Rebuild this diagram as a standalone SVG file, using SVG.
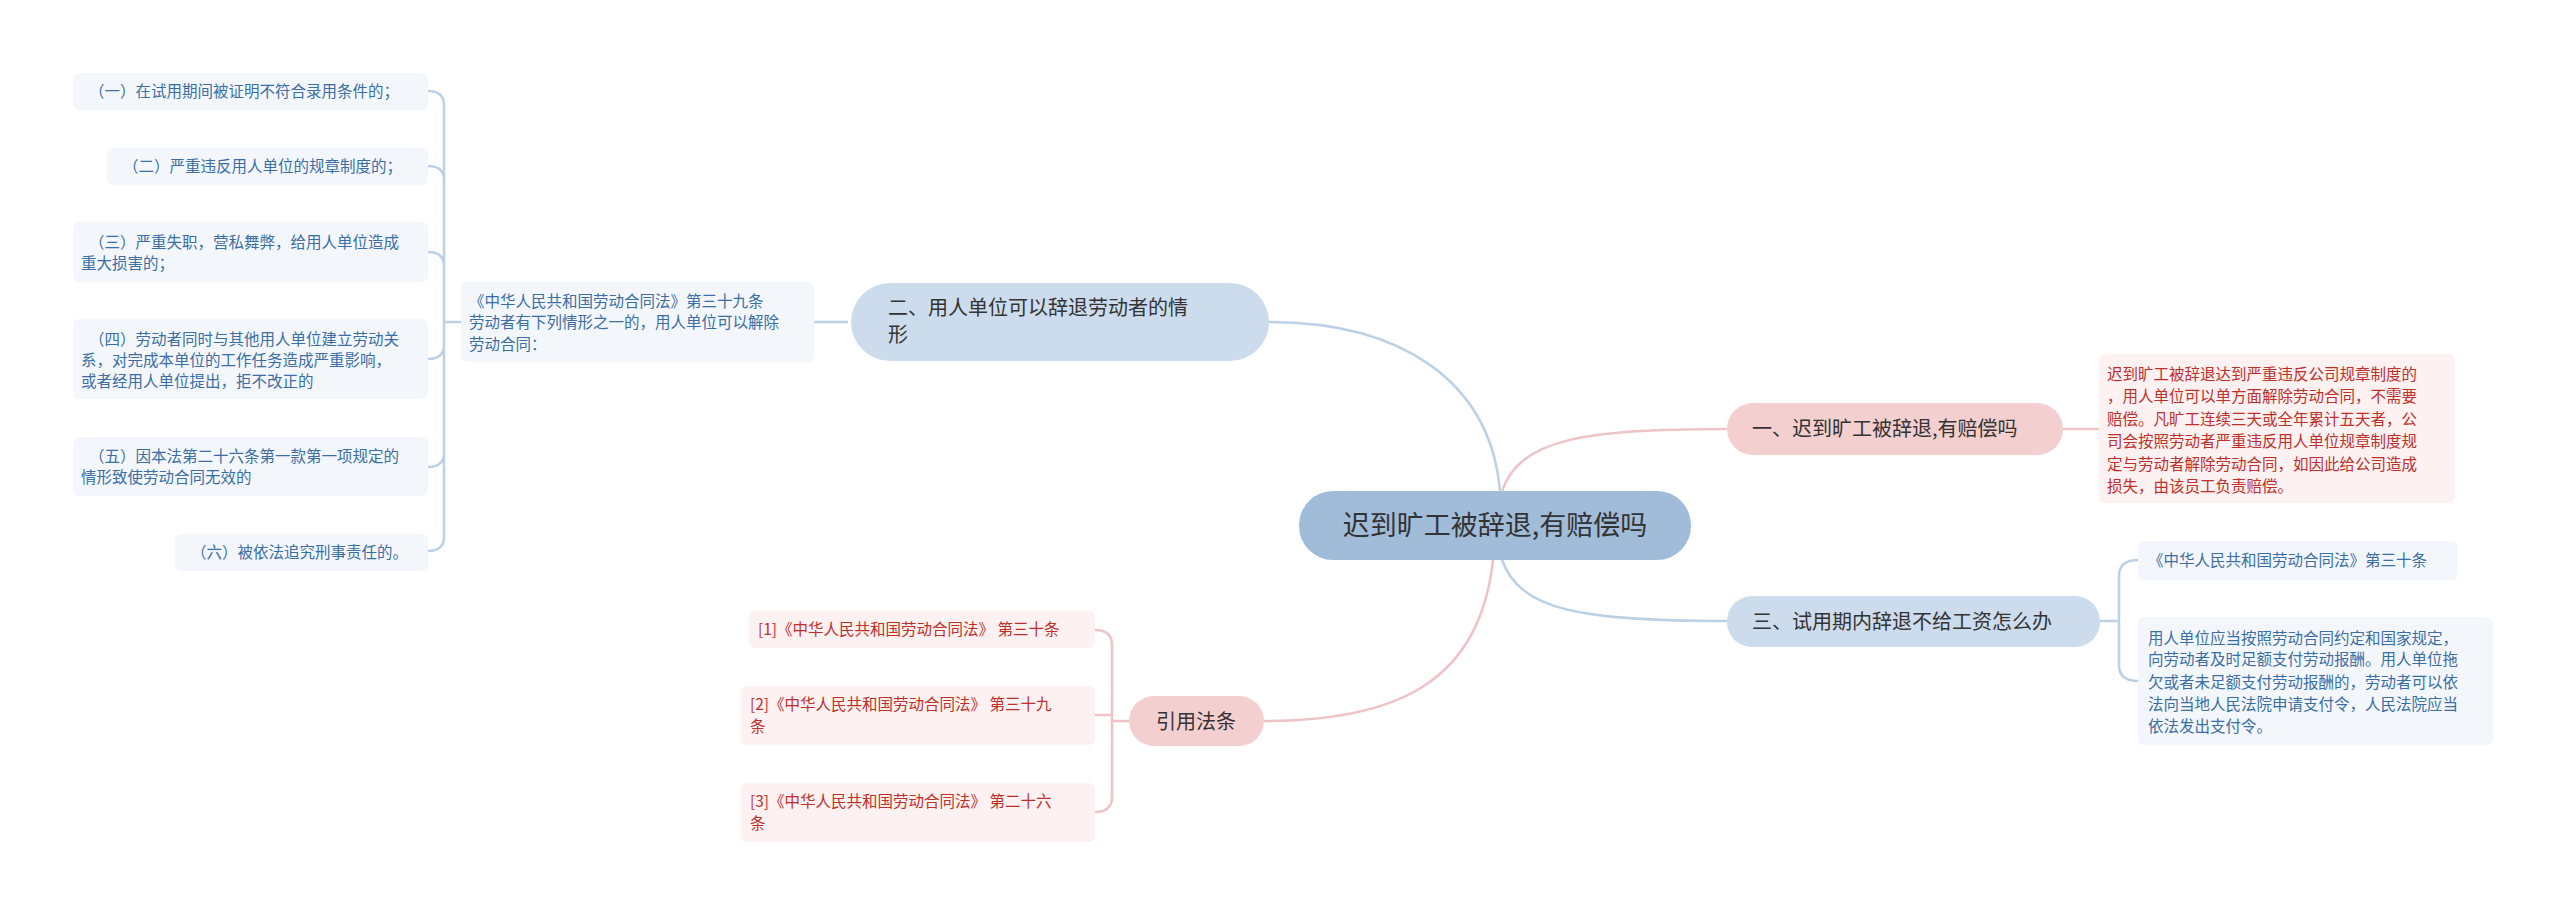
<svg xmlns="http://www.w3.org/2000/svg" width="2560" height="915" viewBox="0 0 2560 915">
<style>
text{font-family:"Noto Sans CJK SC","Liberation Sans",sans-serif;}
.lb{fill:#f3f7fc}.lr{fill:#fdf1f1}
.tb{fill:#3a6ea5;font-size:15.5px}.tr{fill:#c0302b;font-size:15.5px}
.nt{fill:#333;font-size:20px}
.cb{fill:none;stroke:#bcd1e5;stroke-width:2.5}.cr{fill:none;stroke:#efc3c5;stroke-width:2.5}
</style>
<rect width="2560" height="915" fill="#fff"/>
<g id="connectors">
<path class="cb" d="M1500,491 C1490,380 1400,322 1269,322"/>
<path class="cr" d="M1502,491 C1520,440 1580,429 1727,429"/>
<path class="cb" d="M1502,560 C1520,610 1580,621 1727,621"/>
<path class="cr" d="M1493,560 C1480,680 1400,721 1264,721"/>
<path class="cb" d="M848,322 L814,322"/>
<path class="cb" d="M461,322 L444,322 M428,91 Q444,91 444,105 L444,537 Q444,551 428,551 M428,166 Q444,166 444,180 M428,252 Q444,252 444,266 M428,359 Q444,359 444,345 M428,467 Q444,467 444,453"/>
<path class="cr" d="M2063,429 L2099,429"/>
<path class="cb" d="M2100,621 L2119,621 M2138,560 Q2119,560 2119,576 L2119,665 Q2119,681 2138,681"/>
<path class="cr" d="M1129,721 L1112,721 M1095,630 Q1112,630 1112,645 L1112,797 Q1112,812 1095,812 M1095,715 L1112,715"/>
</g>
<g id="center"><rect x="1299" y="491" width="392" height="69" rx="34" fill="#a0bcd9"/><text x="1495" y="535" font-size="27" fill="#333" text-anchor="middle">迟到旷工被辞退,有赔偿吗</text></g>
<g id="n2"><rect x="851" y="283" width="418" height="78" rx="39" fill="#cddcec"/><text class="nt" x="888" y="315">二、用人单位可以辞退劳动者的情</text><text class="nt" x="888" y="342">形</text></g>
<g id="n2p"><rect class="lb" x="461" y="282" width="353" height="80" rx="6"/><text class="tb" x="469" y="307">《中华人民共和国劳动合同法》第三十九条</text><text class="tb" x="469" y="328">劳动者有下列情形之一的，用人单位可以解除</text><text class="tb" x="469" y="350">劳动合同：</text></g>
<g id="l1"><rect class="lb" x="73" y="73" width="355" height="37" rx="6"/><text class="tb" x="89" y="97">（一）在试用期间被证明不符合录用条件的；</text></g>
<g id="l2"><rect class="lb" x="107" y="148" width="321" height="37" rx="6"/><text class="tb" x="123" y="172">（二）严重违反用人单位的规章制度的；</text></g>
<g id="l3"><rect class="lb" x="73" y="222" width="355" height="60" rx="6"/><text class="tb" x="89" y="248">（三）严重失职，营私舞弊，给用人单位造成</text><text class="tb" x="81" y="269">重大损害的；</text></g>
<g id="l4"><rect class="lb" x="73" y="319" width="355" height="80" rx="6"/><text class="tb" x="89" y="345">（四）劳动者同时与其他用人单位建立劳动关</text><text class="tb" x="81" y="366">系，对完成本单位的工作任务造成严重影响，</text><text class="tb" x="81" y="387">或者经用人单位提出，拒不改正的</text></g>
<g id="l5"><rect class="lb" x="73" y="437" width="355" height="59" rx="6"/><text class="tb" x="89" y="462">（五）因本法第二十六条第一款第一项规定的</text><text class="tb" x="81" y="483">情形致使劳动合同无效的</text></g>
<g id="l6"><rect class="lb" x="175" y="534" width="253" height="37" rx="6"/><text class="tb" x="191" y="558">（六）被依法追究刑事责任的。</text></g>
<g id="n1"><rect x="1727" y="403" width="336" height="52" rx="26" fill="#f4cfd0"/><text class="nt" x="1752" y="436">一、迟到旷工被辞退,有赔偿吗</text></g>
<g id="n1l"><rect class="lr" x="2099" y="354" width="356" height="149" rx="6"/><text class="tr" x="2107" y="380">迟到旷工被辞退达到严重违反公司规章制度的</text><text class="tr" x="2107" y="402">，用人单位可以单方面解除劳动合同，不需要</text><text class="tr" x="2107" y="425">赔偿。凡旷工连续三天或全年累计五天者，公</text><text class="tr" x="2107" y="447">司会按照劳动者严重违反用人单位规章制度规</text><text class="tr" x="2107" y="470">定与劳动者解除劳动合同，如因此给公司造成</text><text class="tr" x="2107" y="492">损失，由该员工负责赔偿。</text></g>
<g id="n3"><rect x="1727" y="596" width="373" height="51" rx="25" fill="#cddcec"/><text class="nt" x="1752" y="629">三、试用期内辞退不给工资怎么办</text></g>
<g id="n3a"><rect class="lb" x="2138" y="541" width="320" height="39" rx="6"/><text class="tb" x="2148" y="566">《中华人民共和国劳动合同法》第三十条</text></g>
<g id="n3b"><rect class="lb" x="2138" y="617" width="355" height="128" rx="6"/><text class="tb" x="2148" y="644">用人单位应当按照劳动合同约定和国家规定，</text><text class="tb" x="2148" y="665">向劳动者及时足额支付劳动报酬。用人单位拖</text><text class="tb" x="2148" y="688">欠或者未足额支付劳动报酬的，劳动者可以依</text><text class="tb" x="2148" y="710">法向当地人民法院申请支付令，人民法院应当</text><text class="tb" x="2148" y="732">依法发出支付令。</text></g>
<g id="n4"><rect x="1129" y="696" width="135" height="50" rx="25" fill="#f4cfd0"/><text class="nt" x="1196" y="729" text-anchor="middle">引用法条</text></g>
<g id="r1"><rect class="lr" x="749" y="611" width="346" height="37" rx="6"/><text class="tr" x="758" y="635">[1]《中华人民共和国劳动合同法》 第三十条</text></g>
<g id="r2"><rect class="lr" x="741" y="686" width="354" height="59" rx="6"/><text class="tr" x="750" y="710">[2]《中华人民共和国劳动合同法》 第三十九</text><text class="tr" x="750" y="732">条</text></g>
<g id="r3"><rect class="lr" x="741" y="783" width="354" height="59" rx="6"/><text class="tr" x="750" y="807">[3]《中华人民共和国劳动合同法》 第二十六</text><text class="tr" x="750" y="829">条</text></g>
</svg>
